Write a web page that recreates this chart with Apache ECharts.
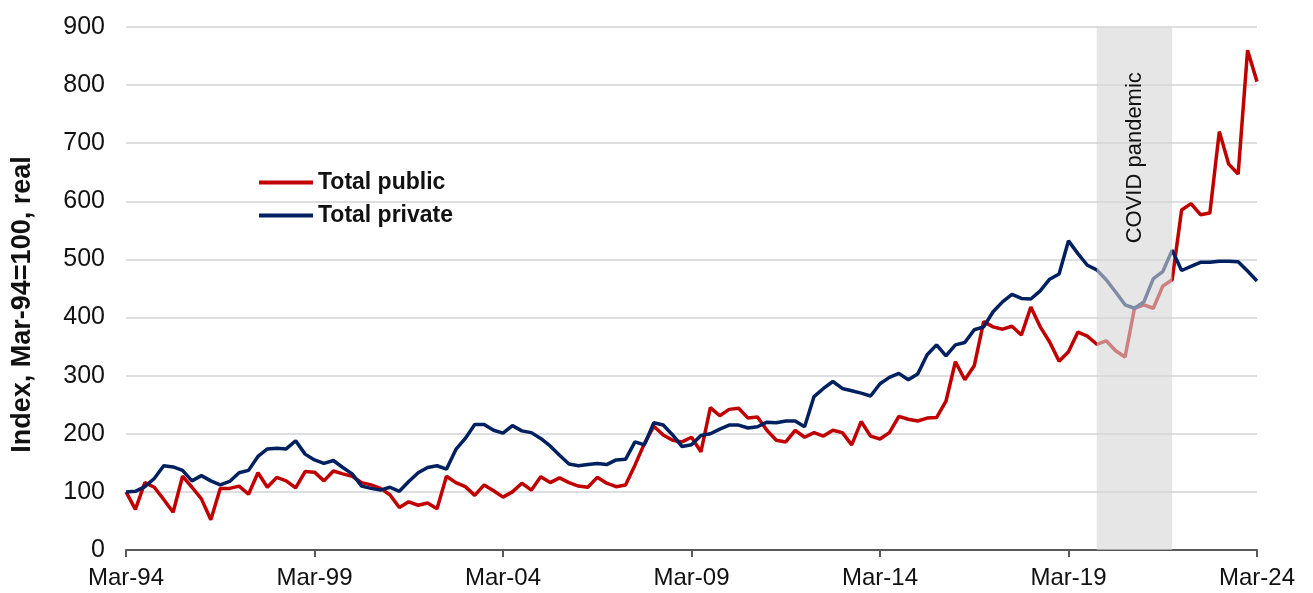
<!DOCTYPE html>
<html>
<head>
<meta charset="utf-8">
<script src="https://cdn.jsdelivr.net/npm/echarts@6/dist/echarts.min.js"></script>
<style>
  html, body { margin: 0; padding: 0; background: #fff; }
  #chart { width: 1313px; height: 593px; }
</style>
</head>
<body>
<div id="chart"></div>
<script>
// quarterly, Mar-94 .. Mar-24
const months = ['Mar', 'Jun', 'Sep', 'Dec']
const quarters = []
for (let y = 1994; y <= 2024; y++) {
  months.forEach(m => {
    if (y === 2024 && m !== 'Mar') return
    quarters.push(m + '-' + String(y).slice(2))
  })
}

const totalPublic = [
  100, 70, 116, 108, 87, 65, 127, 108, 88, 52,
  106, 106, 110, 96, 133, 108, 125, 119, 107, 135,
  134, 119, 136, 131, 127, 116, 112, 106, 95, 73,
  83, 77, 81, 71, 127, 116, 109, 94, 112, 102,
  91, 100, 115, 103, 126, 116, 124, 116, 110, 108,
  125, 115, 109, 112, 146, 183, 213, 198, 189, 186,
  194, 169, 245, 231, 242, 244, 227, 229, 206, 189,
  186, 206, 194, 202, 196, 206, 202, 181, 221, 196,
  191, 202, 230, 225, 222, 227, 228, 256, 324, 293,
  317, 393, 384, 380, 385, 370, 418, 384, 358, 325,
  341, 375, 368, 354, 360, 343, 332, 416, 422, 416,
  454, 465, 585, 596, 577, 580, 720, 664, 647, 860,
  806
]

const totalPrivate = [
  100, 101, 109, 123, 145, 143, 137, 119, 128, 119,
  112, 118, 133, 137, 161, 174, 175, 174, 188, 165,
  155, 149, 154, 142, 131, 110, 106, 103, 108, 101,
  118, 133, 142, 145, 139, 173, 192, 216, 216, 206,
  201, 214, 205, 202, 192, 179, 163, 148, 145, 147,
  149, 147, 155, 156, 186, 181, 219, 215, 198, 178,
  181, 197, 200, 208, 215, 215, 210, 212, 220, 219,
  222, 222, 212, 264, 278, 290, 278, 274, 270, 265,
  286, 297, 304, 293, 303, 336, 353, 334, 353, 357,
  379, 384, 410, 427, 440, 433, 432, 446, 466, 475,
  532, 510, 490, 482, 465, 444, 422, 416, 427, 467,
  479, 516, 481, 488, 495, 495, 497, 497, 496, 480,
  463
]

const covidStart = 'Dec-19'
const covidEnd = 'Dec-21'

const chart = echarts.init(document.getElementById('chart'))

const option = {
  animation: false,
  textStyle: {
    fontFamily: 'Liberation Sans, Arial, sans-serif'
  },
  grid: {
    left: 126,
    right: 56,
    top: 27,
    bottom: 43,
    outerBoundsMode: 'none'
  },
  legend: {
    data: ['Total public', 'Total private'],
    orient: 'vertical',
    left: 254,
    top: 166,
    itemGap: 10,
    itemWidth: 54,
    itemHeight: 4,
    icon: 'rect',
    textStyle: {
      fontSize: 23,
      fontWeight: 'bold',
      color: '#111'
    }
  },
  xAxis: {
    type: 'category',
    data: quarters,
    boundaryGap: false,
    axisLine: {
      lineStyle: { color: '#595959', width: 2 }
    },
    axisTick: {
      interval: 19,
      length: 7,
      lineStyle: { color: '#595959', width: 2 }
    },
    axisLabel: {
      interval: 19,
      margin: 16,
      fontSize: 24,
      color: '#111'
    },
    splitLine: { show: false }
  },
  yAxis: {
    type: 'value',
    min: 0,
    max: 900,
    interval: 100,
    name: 'Index, Mar-94=100, real',
    nameLocation: 'middle',
    nameRotate: 90,
    nameGap: 90,
    nameTextStyle: {
      fontSize: 27,
      fontWeight: 'bold',
      color: '#111',
      padding: [0, 32, 0, 0]
    },
    axisLine: { show: false },
    axisTick: { show: false },
    axisLabel: {
      margin: 21,
      fontSize: 25,
      color: '#111'
    },
    splitLine: {
      lineStyle: { color: '#dcdee0', width: 2 }
    }
  },
  series: [
    {
      name: 'Total public',
      type: 'line',
      data: totalPublic,
      showSymbol: false,
      z: 2,
      lineStyle: { width: 3.5, color: '#c00000' },
      itemStyle: { color: '#c00000' },
      // shaded covid band, drawn over the lines
      markArea: {
        silent: true,
        z: 10,
        itemStyle: { color: 'rgba(213,213,213,0.6)' },
        label: {
          show: true,
          position: ['50%', '25%'],
          rotate: 90,
          align: 'center',
          verticalAlign: 'middle',
          fontSize: 22,
          color: '#111'
        },
        data: [[
          { name: 'COVID pandemic', xAxis: covidStart },
          { xAxis: covidEnd }
        ]]
      }
    },
    {
      name: 'Total private',
      type: 'line',
      data: totalPrivate,
      showSymbol: false,
      z: 2,
      lineStyle: { width: 3.5, color: '#002060' },
      itemStyle: { color: '#002060' }
    }
  ]
}

chart.setOption(option)
</script>
</body>
</html>
